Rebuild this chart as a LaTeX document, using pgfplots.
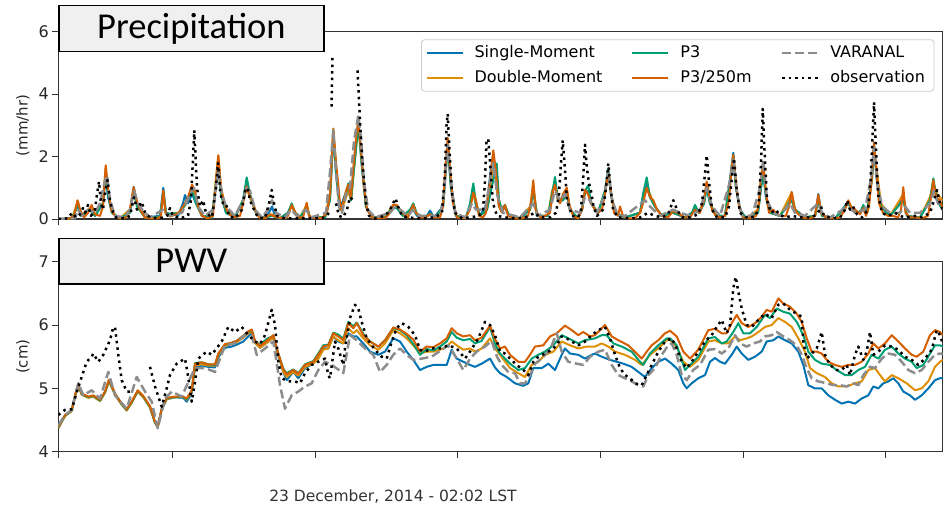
\documentclass[border=0pt]{standalone}
\usepackage{fontspec}
\setmainfont{DejaVu Sans}
\newfontfamily\titlefont{Carlito}
\usepackage{pgfplots}
\pgfplotsset{compat=1.18}
\definecolor{cSM}{HTML}{0173B2}
\definecolor{cDM}{HTML}{DE8F05}
\definecolor{cP3}{HTML}{029E73}
\definecolor{cPH}{HTML}{D55E00}
\definecolor{cVA}{HTML}{8C8C8C}
\definecolor{axc}{HTML}{333333}
\definecolor{boxfill}{HTML}{F0F0F0}
\pgfplotsset{
  myaxis/.style={
    scale only axis, width=884.4bp,
    xmin=58.3, xmax=942.7,
    xtick={58.3,172.3,315,457.7,600.6,743.2,885.7},
    xticklabels={},
    tick align=outside, xtick pos=left, ytick pos=left,
    major tick length=6bp,
    tick style={axc, line width=1bp},
    axis line style={axc, line width=1.2bp},
    ticklabel style={font=\fontsize{16bp}{19bp}\selectfont, text=black!85},
    /pgf/number format/assume math mode=true,
    ylabel style={at={(axis description cs:-0.04,0.5)}, anchor=center, font=\fontsize{15bp}{18bp}\selectfont, text=black!85},
    unbounded coords=jump,
    every axis plot/.append style={line join=round},
  },
  sm/.style={cSM, line width=2bp},
  dm/.style={cDM, line width=2bp},
  ptr/.style={cP3, line width=2bp},
  ph/.style={cPH, line width=2bp},
  va/.style={cVA, line width=2.5bp, dash pattern=on 9bp off 4bp},
  ob/.style={black, line width=2.5bp, dash pattern=on 2.5bp off 4.1bp},
}
\begin{document}
\begin{tikzpicture}
\path[use as bounding box] (0bp,0bp) rectangle (948bp,-509bp);
% ---------------- Precipitation ----------------
\begin{axis}[myaxis, at={(58.3bp,-219bp)}, anchor=south west, height=187.3bp,
  ymin=0, ymax=6, ytick={0,2,4,6}, ylabel={(mm/hr)},
  legend columns=3, legend cell align=left,
  legend image code/.code={\draw[#1] (0bp,0bp) -- (36bp,0bp);},
  legend style={at={(0.9905,0.9594)}, anchor=north east, draw=black!20, line width=0.8bp,
    rounded corners=3bp, fill=white, font=\fontsize{16bp}{19bp}\selectfont,
    inner xsep=4bp, inner ysep=3.5bp, row sep=5.5bp,
    nodes={inner xsep=5bp, inner ysep=2bp, text height=12bp, text depth=3.5bp},
    /tikz/every odd column/.append style={column sep=6bp},
    /tikz/every even column/.append style={column sep=24bp}},
]
\addplot[sm, forget plot] coordinates {(58.3,0) (72,0.02) (76,0.3) (78,0.45) (81,0.1) (90,0.3) (95,0.1) (103,0.5) (105.7,1.45) (108,0.7) (112,0.2) (120,0.02) (130,0.3) (133.7,1.03) (137,0.5) (145,0.05) (160,0.1) (163.3,1.0) (166,0.2) (178,0.1) (183,0.5) (185,0.77) (188,0.5) (192,0.8) (196,0.5) (202,0.1) (212,0.05) (218.3,1.75) (221,0.8) (226,0.2) (235,0.05) (243,0.6) (246.7,1.1) (250,0.7) (256,0.2) (262,0.02) (269,0.2) (272,0.4) (275,0.1) (280,0.02) (288,0.2) (291.7,0.45) (295,0.2) (300,0.05) (306.7,0.35) (310,0.05) (325,0.05) (330,0.7) (333.3,2.75) (336,1.5) (340,0.3) (344,0.7) (348.3,1.0) (351,0.6) (354,1.7) (358.3,3.1) (362,1.7) (366,0.4) (372,0.05) (385,0.05) (393,0.35) (397,0.35) (403,0.1) (413.3,0.3) (417,0.1) (427,0.1) (430,0.27) (434,0.05) (443,0.4) (447.7,2.4) (451,1.0) (456,0.1) (466,0.05) (470,0.4) (473.3,0.9) (476,0.4) (480,0.1) (487,0.5) (490.5,1.5) (493.3,2.1) (496,1.2) (499,0.4) (505,0.35) (509,0.1) (520,0.02) (530,0.3) (533.3,1.0) (537,0.1) (548,0.1) (552,0.7) (555,1.2) (558,0.6) (563,0.6) (566.7,0.9) (570,0.3) (578,0.02) (582,0.3) (585,0.85) (588.3,0.9) (591,0.5) (598,0.2) (605,0.9) (608.3,1.55) (611,0.8) (615,0.2) (625,0.05) (640,0.2) (643,0.6) (646.7,1.1) (650,0.7) (655,0.4) (662,0.1) (673,0.2) (685,0.05) (692,0.2) (695,0.35) (699,0.2) (704,0.5) (706.7,1.05) (710,0.5) (716,0.1) (725,0.1) (730,1.3) (733.3,2.12) (736,1.0) (740,0.3) (746,0.02) (758,0.2) (761,1.0) (763.3,1.46) (766,0.7) (770,0.2) (780,0.1) (791.7,0.8) (795,0.3) (805,0.05) (815,0.1) (818.3,0.8) (822,0.1) (835,0.02) (848.3,0.55) (852,0.3) (860,0.2) (863.3,0.4) (867,0.2) (872,1.3) (874,2.35) (877,1.2) (881,0.4) (890,0.1) (903.3,0.7) (907,0.1) (920,0.05) (930,0.6) (933.3,1.2) (937,0.6) (942.7,0.3)};
\addplot[dm, forget plot] coordinates {(58.3,0) (72,0.02) (76,0.4) (78,0.55) (81,0.1) (90,0.35) (95,0.1) (103,0.5) (105.7,1.65) (108,0.9) (112,0.2) (120,0.02) (130,0.3) (133.7,0.95) (137,0.5) (145,0.05) (160,0.05) (163.3,0.8) (166,0.15) (180,0.2) (185,0.45) (192,1.0) (196,0.6) (202,0.1) (212,0.05) (218.3,2.04) (221,1.0) (226,0.3) (235,0.05) (243,0.6) (246.7,1.0) (250,0.7) (256,0.2) (262,0.02) (272,0.15) (280,0.02) (288,0.2) (291.7,0.4) (295,0.2) (300,0.05) (306.7,0.45) (310,0.05) (325,0.05) (330,0.8) (333.3,2.9) (336,1.7) (340,0.3) (344,0.5) (348.3,0.9) (351,0.6) (354,1.6) (358.3,3.0) (362,1.8) (366,0.4) (372,0.05) (385,0.05) (393,0.45) (397,0.4) (403,0.1) (410,0.2) (413.3,0.35) (417,0.15) (425,0.05) (430,0.15) (436,0.05) (443,0.4) (447.7,2.5) (451,1.1) (456,0.1) (466,0.05) (470,0.4) (473.3,0.8) (476,0.5) (480,0.1) (487,0.3) (491,1.0) (493.3,1.9) (496,1.2) (499,0.4) (505,0.4) (509,0.1) (520,0.02) (530,0.4) (533.3,1.1) (537,0.1) (548,0.1) (552,0.9) (555,1.1) (558,0.6) (563,0.7) (566.7,1.0) (570,0.3) (578,0.02) (582,0.3) (585,0.9) (588.3,0.8) (591,0.5) (598,0.2) (605,0.9) (608.3,1.5) (611,0.8) (615,0.2) (625,0.05) (640,0.2) (643,0.6) (646.7,1.0) (650,0.8) (655,0.4) (662,0.1) (673,0.2) (685,0.05) (692,0.2) (695,0.3) (699,0.2) (704,0.6) (706.7,1.15) (710,0.5) (716,0.1) (725,0.1) (730,1.2) (733.3,2.0) (736,1.0) (740,0.3) (746,0.02) (758,0.3) (761,1.3) (763.3,1.8) (766,0.8) (770,0.2) (780,0.1) (791.7,0.85) (795,0.3) (805,0.05) (815,0.1) (818.3,0.7) (822,0.1) (835,0.02) (848.3,0.5) (852,0.3) (860,0.2) (863.3,0.3) (867,0.2) (872,1.3) (874,2.3) (877,1.5) (881,0.5) (890,0.1) (903.3,0.8) (907,0.1) (920,0.05) (930,0.7) (933.3,1.1) (937,0.8) (942.7,0.6)};
\addplot[ptr, forget plot] coordinates {(58.3,0) (72,0.02) (76,0.3) (78,0.5) (81,0.1) (90,0.3) (95,0.1) (103,0.5) (105.7,1.5) (108,0.8) (112,0.2) (120,0.02) (130,0.2) (133.7,0.9) (137,0.4) (145,0.05) (160,0.05) (163.3,0.85) (166,0.15) (180,0.2) (185,0.45) (192,0.9) (196,0.5) (202,0.1) (212,0.05) (218.3,1.8) (221,0.8) (226,0.2) (235,0.05) (243,0.6) (246.7,1.33) (250,0.8) (256,0.2) (262,0.02) (272,0.1) (280,0.02) (288,0.2) (291.7,0.5) (295,0.2) (300,0.05) (306.7,0.4) (310,0.05) (325,0.05) (330,0.6) (333.3,2.7) (336,1.5) (340,0.3) (344,0.6) (348.3,1.14) (351,0.6) (354,1.6) (358.3,3.05) (362,1.6) (366,0.4) (372,0.05) (385,0.05) (393,0.4) (397,0.35) (403,0.1) (410,0.3) (413.3,0.5) (417,0.15) (425,0.05) (430,0.15) (436,0.05) (443,0.4) (447.7,2.36) (451,1.0) (456,0.1) (466,0.05) (470,0.5) (473.3,1.14) (476,0.5) (480,0.1) (487,0.3) (491,0.9) (496.7,1.78) (499,0.6) (502,0.3) (505,0.45) (509,0.1) (520,0.02) (530,0.3) (533.3,0.9) (537,0.1) (548,0.1) (552,0.8) (555,1.35) (558,0.6) (563,0.6) (566.7,0.8) (570,0.3) (578,0.02) (582,0.3) (585,0.9) (588.3,1.08) (591,0.5) (598,0.2) (605,0.9) (608.3,1.62) (611,0.8) (615,0.2) (625,0.05) (640,0.2) (643,0.8) (646.7,1.33) (650,0.7) (655,0.4) (662,0.1) (673,0.2) (685,0.05) (692,0.2) (695,0.45) (699,0.2) (704,0.5) (706.7,1.0) (710,0.5) (716,0.1) (725,0.1) (730,1.2) (733.3,2.05) (736,1.0) (740,0.3) (746,0.02) (758,0.2) (761,1.0) (763.3,1.5) (766,0.7) (770,0.2) (780,0.1) (791.7,0.6) (795,0.3) (805,0.05) (815,0.1) (818.3,0.6) (822,0.1) (835,0.02) (848.3,0.5) (852,0.3) (860,0.2) (863.3,0.45) (867,0.2) (872,1.3) (874,2.3) (877,1.2) (881,0.4) (890,0.1) (903.3,0.6) (907,0.1) (920,0.05) (930,0.6) (933.3,1.3) (937,0.6) (942.7,0.3)};
\addplot[ph, forget plot] coordinates {(58.3,0) (65,0) (70,0.02) (74,0.1) (77.5,0.6) (80,0.3) (84,0.05) (88,0.2) (91.7,0.45) (95,0.15) (100,0.1) (103,0.4) (105.7,1.72) (108,1.0) (111,0.3) (115,0.1) (120,0.02) (126,0.05) (130,0.3) (133.7,1.02) (136.5,0.6) (140,0.3) (145,0.05) (150,0.02) (158,0.02) (161,0.1) (163.3,0.92) (165.5,0.2) (170,0.08) (176,0.15) (180,0.25) (185,0.5) (188,0.7) (192,1.1) (195,0.9) (198,0.4) (202,0.1) (208,0.02) (213,0.1) (218.3,2.04) (221,1.0) (224,0.5) (228,0.2) (233,0.05) (240,0.1) (243,0.5) (246.7,1.05) (249,0.8) (252,0.6) (255,0.3) (259,0.05) (265,0.02) (270,0.15) (273,0.1) (278,0.05) (285,0.02) (288,0.1) (291.7,0.45) (294,0.3) (298,0.05) (303,0.05) (306.7,0.52) (309,0.1) (315,0.02) (322,0.03) (327,0.2) (330,0.8) (333.3,2.88) (336,1.8) (338,1.2) (340.5,0.3) (343,0.5) (346,0.9) (348.3,1.1) (351,0.7) (353,1.5) (356,2.6) (358.3,3.15) (361,2.2) (364,1.0) (367,0.3) (372,0.05) (380,0.02) (386,0.05) (390,0.2) (393,0.45) (396.7,0.45) (400,0.3) (404,0.15) (408,0.05) (411,0.3) (413.3,0.45) (416,0.2) (420,0.05) (425,0.05) (430,0.15) (434,0.05) (440,0.05) (443,0.4) (445,1.5) (447.7,2.6) (450,1.6) (453,0.5) (457,0.05) (465,0.02) (470,0.3) (473.3,0.85) (476,0.6) (479,0.1) (483,0.05) (486,0.2) (490,1.2) (493.3,2.2) (496,1.5) (499,0.4) (502,0.2) (505,0.45) (508,0.1) (515,0.02) (522,0.02) (528,0.1) (531,0.5) (533.3,1.24) (535.5,0.3) (540,0.05) (545,0.1) (550,0.2) (553,0.9) (555,1.1) (557.5,0.7) (560,0.5) (563,0.8) (566.7,1.0) (569,0.5) (573,0.1) (578,0.02) (582,0.3) (585,0.93) (588,0.8) (591,0.5) (595,0.3) (598,0.2) (602,0.3) (605,0.8) (608.3,1.5) (611,0.9) (614,0.2) (618,0.1) (620,0.4) (623,0.1) (628,0.02) (635,0.02) (640,0.2) (643,0.5) (646.7,1.0) (650,0.7) (653.3,0.6) (657,0.3) (662,0.1) (668,0.05) (673,0.25) (678,0.2) (684,0.05) (690,0.05) (695,0.3) (700,0.2) (704,0.6) (706.7,1.2) (709,0.8) (712,0.3) (716,0.1) (720,0.05) (725,0.1) (729,0.6) (731.5,1.6) (733.3,2.05) (736,1.2) (739,0.4) (743,0.05) (750,0.02) (756,0.1) (759,0.5) (761,1.3) (763.3,1.7) (766,0.8) (769,0.2) (773,0.3) (776,0.2) (780,0.1) (786,0.1) (789,0.4) (791.7,0.87) (794,0.4) (797,0.2) (802,0.05) (810,0.02) (815,0.1) (818.3,0.77) (821,0.2) (826,0.05) (833,0.02) (840,0.05) (845,0.3) (848.3,0.6) (851,0.4) (855,0.3) (860,0.15) (863.3,0.35) (866,0.1) (869,0.4) (871.5,1.2) (874,2.45) (876.5,1.5) (879,0.5) (883,0.2) (888,0.1) (893,0.1) (898,0.05) (901,0.3) (903.3,1.02) (905.5,0.2) (910,0.05) (917,0.05) (922,0.02) (928,0.1) (931,0.7) (933.3,1.25) (936,0.7) (940,0.6) (942.7,0.3)};
\addplot[va, forget plot] coordinates {(58.3,0) (75,0.02) (78,0.3) (82,0.1) (88,0.3) (95,0.2) (100,0.5) (104,1.1) (107,1.4) (110,0.6) (115,0.1) (125,0.05) (130,0.3) (134,0.9) (138,0.5) (142,0.3) (150,0.05) (163,0.3) (168,0.1) (182,0.2) (190,0.8) (194,1.0) (198,0.4) (205,0.1) (213,0.3) (218.3,1.6) (222,0.8) (226,0.4) (235,0.1) (243,0.6) (246.7,1.0) (250,0.9) (255,0.3) (262,0.05) (268,0.3) (272,0.6) (276,0.2) (285,0.05) (291,0.3) (297,0.1) (306,0.3) (311,0.05) (326,0.2) (330,1.5) (333.3,2.85) (336,1.5) (339,0.4) (342,0.2) (346,0.8) (350,1.0) (354,2.5) (358.3,3.32) (361,2.6) (364,1.2) (368,0.3) (375,0.05) (390,0.2) (395,0.4) (400,0.3) (408,0.1) (413,0.3) (420,0.1) (440,0.1) (444,0.8) (447.7,2.4) (451,1.2) (455,0.2) (465,0.05) (472,0.5) (476,0.3) (485,0.3) (490,1.2) (493.3,1.8) (497,0.8) (503,0.2) (520,0.05) (533,0.5) (538,0.1) (550,0.3) (555,0.9) (560,0.6) (565,0.8) (570,0.3) (580,0.2) (585,0.7) (590,0.6) (597,0.2) (604,0.7) (608.3,1.5) (612,0.6) (618,0.1) (625,0.1) (645,0.6) (650,0.4) (660,0.1) (673,0.3) (680,0.2) (690,0.1) (700,0.3) (706.7,1.0) (712,0.4) (720,0.1) (730,1.2) (733.3,1.9) (737,0.8) (742,0.1) (752,0.1) (760,1.0) (763.3,1.9) (767,0.6) (773,0.2) (780,0.1) (790,0.5) (795,0.2) (805,0.1) (818,0.5) (822,0.2) (830,0.05) (848,0.4) (855,0.2) (865,0.3) (871,1.3) (874,2.3) (877,1.2) (882,0.4) (890,0.2) (900,0.2) (905,0.4) (910,0.2) (920,0.2) (930,0.5) (934,0.9) (938,0.5) (942.7,0.4)};
\addplot[ob, forget plot] coordinates {(58.3,0) (68,0.02) (72,0.2) (76,0.05) (80,0.15) (83,0.35) (85,0.2) (88,0.45) (91,0.1) (95,0.3) (97,0.8) (99,1.2) (101,0.5) (103,0.3) (105,0.8) (107.5,1.25) (110,0.6) (112,0.3) (116,0.05) (125,0.02) (130,0.1) (134,0.7) (137,0.3) (141.7,0.55) (145,0.2) (150,0.05) (160,0.02) (167,0.1) (170,0.35) (173,0.1) (180,0.02) (188,0.1) (191,0.6) (194.3,2.84) (197,1.0) (200,0.4) (203,0.6) (206,0.2) (212,0.05) (216,1.0) (218,1.8) (220.5,0.8) (223,0.5) (226,0.5) (229,0.1) (235,0.02) (242,0.3) (245,0.9) (247.5,1.0) (250,0.6) (254,0.3) (258,0.05) (265,0.02) (269,0.5) (271.7,0.93) (274,0.5) (277,0.1) (285,0.02) (300,0.02) (315,0.02) (325,0.05) (329,0.2) (330.5,nan) (331.5,3.6) (332.5,5.17) (334,nan) (336,0.5) (339,0.1) (343,0.05) (347,0.3) (350,0.7) (353,0.6) (355,nan) (357.5,4.76) (359,3.8) (361,2.5) (363,1.6) (366,0.5) (369,0.1) (375,0.02) (385,0.1) (390,0.3) (393,0.5) (395.5,0.66) (398,0.4) (402,0.1) (408,0.05) (420,0.02) (435,0.05) (442,0.2) (445,1.5) (446.5,3.0) (447.7,3.37) (449.5,2.2) (452,0.8) (455,0.2) (462,0.02) (470,0.05) (479,0.1) (483,0.3) (485,1.2) (486.5,2.45) (488.3,2.57) (490,1.8) (493,0.5) (497,0.1) (505,0.05) (515,0.02) (525,0.05) (535,0.2) (540,0.05) (550,0.05) (556,0.2) (559,0.8) (561,1.8) (562.7,2.52) (564.5,1.8) (567,0.6) (572,0.1) (578,0.05) (581,0.3) (583,1.2) (585,2.38) (587,1.6) (589,1.14) (591,0.9) (593.5,0.4) (597,0.1) (603,0.3) (606,1.0) (608.3,1.78) (610.5,1.0) (613,0.3) (618,0.05) (630,0.02) (640,0.05) (648,0.2) (655,0.1) (662,0.05) (668,0.15) (673.3,0.6) (677,0.3) (682,0.05) (690,0.05) (698,0.15) (702,0.5) (704.5,1.3) (706.7,2.04) (709,1.2) (712,0.3) (717,0.05) (725,0.05) (729,0.4) (731.5,1.2) (734,1.95) (736.5,1.0) (740,0.2) (748,0.02) (756,0.1) (759,0.6) (761,1.8) (762.7,3.53) (764.5,2.2) (767,0.6) (771,0.2) (776,0.3) (779,0.15) (785,0.05) (792,0.1) (800,0.05) (812,0.05) (818,0.2) (821,0.4) (824,0.1) (832,0.02) (840,0.05) (845,0.3) (847,0.6) (850,0.3) (853,0.4) (857,0.15) (862,0.05) (868,0.3) (870.5,1.2) (872.5,2.6) (874,3.74) (875.5,2.6) (878,0.8) (882,0.2) (888,0.1) (895,0.2) (900,0.1) (905,0.05) (915,0.1) (922,0.05) (930,0.2) (934,0.6) (937,0.93) (940,0.5) (942.7,0.3)};
\addlegendimage{sm}\addlegendentry{Single-Moment}
\addlegendimage{ptr}\addlegendentry{P3}
\addlegendimage{va}\addlegendentry{VARANAL}
\addlegendimage{dm}\addlegendentry{Double-Moment}
\addlegendimage{ph}\addlegendentry{P3/250m}
\addlegendimage{ob}\addlegendentry{observation}
\end{axis}
% ---------------- PWV ----------------
\begin{axis}[myaxis, at={(58.3bp,-451.7bp)}, anchor=south west, height=190bp,
  ymin=4, ymax=7, ytick={4,5,6,7}, ylabel={(cm)}]
\addplot[sm, forget plot] coordinates {(58.3,4.38) (65,4.57) (71.7,4.65) (76,4.94) (78.3,5.05) (81.7,4.91) (88.3,4.86) (93.3,4.88) (100,4.80) (105,4.94) (109,5.12) (115,4.91) (121.7,4.75) (126.7,4.66) (131.7,4.78) (137.7,4.95) (143.3,4.86) (150,4.70) (155,4.46) (157.7,4.39) (161.7,4.67) (166.7,4.83) (175,4.86) (183.3,4.85) (186.7,4.79) (191.7,4.92) (195,5.34) (201.7,5.36) (208.3,5.34) (215,5.33) (218.3,5.49) (225,5.64) (231.7,5.66) (236.7,5.69) (243.3,5.74) (248.3,5.82) (251.7,5.88) (255,5.72) (260,5.64) (266.7,5.72) (273.3,5.80) (278.3,5.52) (283.3,5.26) (286.7,5.13) (293.3,5.26) (298.3,5.16) (305,5.32) (313.3,5.39) (318.3,5.47) (323.3,5.63) (328.3,5.63) (333.3,5.82) (338.3,5.74) (343.3,5.71) (348.3,5.87) (353.3,5.82) (356.7,5.82) (363.3,5.71) (370,5.58) (378.3,5.53) (385,5.58) (393.3,5.79) (400,5.74) (406.7,5.58) (413.3,5.45) (420,5.29) (426.7,5.34) (433.3,5.37) (440,5.37) (446.7,5.37) (451.7,5.61) (456.7,5.47) (463.3,5.42) (470,5.37) (475,5.34) (481.7,5.39) (490,5.47) (495,5.33) (500,5.24) (506.7,5.18) (515,5.08) (523.3,5.04) (528.3,5.08) (533.3,5.32) (541.7,5.32) (548.3,5.39) (555,5.29) (561.7,5.53) (565,5.63) (570,5.55) (578.3,5.53) (585,5.47) (591.7,5.53) (595,5.55) (601.7,5.50) (610,5.45) (616.7,5.42) (623.3,5.39) (631.7,5.34) (638.3,5.26) (645,5.18) (651.7,5.32) (658.3,5.42) (665,5.47) (671.7,5.39) (678.3,5.29) (683.3,5.08) (686.7,5.00) (691.7,5.08) (698.3,5.16) (705,5.21) (710,5.42) (715,5.48) (720,5.42) (725,5.39) (731.7,5.53) (736.7,5.66) (741.7,5.55) (748.3,5.45) (755,5.50) (761.7,5.58) (766.7,5.74) (773.3,5.76) (778.3,5.82) (785,5.76) (791.7,5.71) (798.3,5.58) (803.3,5.37) (808.3,5.05) (815,5.00) (821.7,5.00) (828.3,4.89) (835,4.82) (841.7,4.76) (848.3,4.79) (855,4.76) (861.7,4.84) (868.3,4.89) (873.3,5.03) (878.3,5.00) (883.3,5.08) (888.3,5.11) (893.3,5.16) (898.3,5.08) (903.3,4.95) (910,4.89) (915,4.82) (921.7,4.89) (928.3,5.00) (935,5.13) (940,5.16) (942.7,5.16)};
\addplot[dm, forget plot] coordinates {(58.3,4.37) (65,4.56) (71.7,4.64) (76,4.93) (78.3,5.04) (81.7,4.90) (88.3,4.85) (93.3,4.87) (100,4.80) (105,4.93) (109,5.11) (115,4.90) (121.7,4.74) (126.7,4.65) (131.7,4.77) (137.7,4.95) (143.3,4.86) (150,4.70) (155,4.46) (157.7,4.39) (161.7,4.67) (166.7,4.83) (175,4.86) (183.3,4.86) (186.7,4.82) (191.7,4.94) (195,5.36) (201.7,5.38) (208.3,5.36) (215,5.36) (218.3,5.52) (225,5.67) (231.7,5.70) (236.7,5.73) (243.3,5.80) (248.3,5.87) (251.7,5.90) (255,5.72) (260,5.64) (266.7,5.72) (273.3,5.80) (278.3,5.53) (283.3,5.26) (286.7,5.18) (293.3,5.26) (298.3,5.20) (305,5.34) (313.3,5.39) (318.3,5.47) (323.3,5.61) (328.3,5.63) (333.3,5.82) (338.3,5.76) (343.3,5.71) (348.3,5.95) (353.3,5.87) (356.7,5.92) (363.3,5.79) (370,5.68) (378.3,5.61) (385,5.71) (393.3,5.92) (400,5.87) (406.7,5.79) (413.3,5.68) (420,5.55) (426.7,5.58) (433.3,5.58) (440,5.61) (446.7,5.66) (451.7,5.74) (456.7,5.68) (463.3,5.61) (470,5.63) (475,5.58) (481.7,5.63) (490,5.79) (495,5.63) (500,5.53) (510,5.32) (518.3,5.24) (525,5.18) (531.7,5.37) (538.3,5.42) (545,5.53) (553.3,5.58) (561.7,5.74) (570,5.68) (578.3,5.63) (586.7,5.66) (595,5.66) (601.7,5.71) (608.3,5.66) (615,5.58) (625,5.53) (635,5.45) (641.7,5.37) (650,5.53) (658.3,5.63) (666.7,5.76) (670,5.76) (676.7,5.66) (683.3,5.42) (690,5.34) (698.3,5.45) (708.3,5.74) (715,5.76) (721.7,5.71) (728.3,5.71) (735,5.82) (740,5.76) (746.7,5.79) (751.7,5.82) (756.7,5.87) (765,5.97) (771.7,6.00) (778.3,6.11) (785,6.05) (791.7,5.97) (798.3,5.79) (805,5.58) (810,5.32) (816.7,5.24) (825,5.18) (831.7,5.08) (838.3,5.03) (846.7,5.03) (855,5.08) (861.7,5.11) (868.3,5.29) (875,5.32) (880,5.21) (885,5.11) (891.7,5.21) (898.3,5.16) (906.7,5.08) (915,4.97) (921.7,5.00) (928.3,5.11) (935,5.34) (940,5.42) (942.7,5.45)};
\addplot[ptr, forget plot] coordinates {(58.3,4.38) (65,4.57) (71.7,4.65) (76,4.94) (78.3,5.06) (81.7,4.91) (88.3,4.86) (93.3,4.88) (100,4.81) (105,4.94) (109,5.13) (115,4.91) (121.7,4.75) (126.7,4.66) (131.7,4.78) (137.7,4.96) (143.3,4.87) (150,4.71) (155,4.46) (157.7,4.39) (161.7,4.67) (166.7,4.84) (175,4.86) (183.3,4.86) (186.7,4.83) (191.7,4.96) (195,5.40) (201.7,5.41) (208.3,5.38) (215,5.37) (218.3,5.54) (225,5.69) (231.7,5.72) (236.7,5.75) (243.3,5.83) (248.3,5.89) (251.7,5.92) (255,5.74) (260,5.69) (266.7,5.78) (273.3,5.83) (278.3,5.55) (283.3,5.31) (286.7,5.24) (293.3,5.30) (298.3,5.24) (305,5.38) (313.3,5.43) (318.3,5.55) (323.3,5.68) (328.3,5.69) (333.3,5.88) (338.3,5.85) (343.3,5.78) (348.3,6.05) (353.3,5.98) (356.7,6.04) (363.3,5.86) (370,5.74) (378.3,5.66) (385,5.76) (393.3,5.95) (400,5.92) (406.7,5.84) (413.3,5.70) (420,5.53) (426.7,5.62) (433.3,5.60) (440,5.66) (446.7,5.74) (451.7,5.89) (456.7,5.80) (463.3,5.76) (470,5.78) (475,5.71) (481.7,5.75) (490,5.97) (495,5.70) (500,5.55) (510,5.39) (518.3,5.29) (525,5.32) (531.7,5.47) (538.3,5.53) (545,5.58) (553.3,5.68) (561.7,5.84) (568.3,5.79) (578.3,5.71) (585,5.76) (595,5.79) (601.7,5.84) (606.7,5.84) (613.3,5.71) (621.7,5.66) (631.7,5.58) (640,5.42) (643.3,5.37) (650,5.55) (658.3,5.68) (666.7,5.79) (670,5.79) (676.7,5.68) (685,5.29) (690,5.37) (698.3,5.50) (708.3,5.79) (715,5.81) (721.7,5.71) (726.7,5.74) (733.3,5.89) (738.3,6.03) (743.3,5.87) (750,5.87) (756.7,5.97) (765,6.16) (770,6.11) (776.7,6.26) (783.3,6.21) (790,6.18) (796.7,6.05) (803.3,5.84) (808.3,5.58) (815,5.45) (821.7,5.39) (830,5.37) (836.7,5.29) (845,5.21) (851.7,5.21) (858.3,5.29) (865,5.34) (871.7,5.53) (878.3,5.47) (885,5.61) (891.7,5.66) (898.3,5.55) (905,5.47) (911.7,5.42) (916.7,5.32) (923.3,5.37) (930,5.55) (935,5.68) (940,5.68) (942.7,5.66)};
\addplot[ph, forget plot] coordinates {(58.3,4.39) (65,4.58) (71.7,4.66) (76,4.95) (78.3,5.07) (81.7,4.92) (88.3,4.87) (93.3,4.89) (100,4.82) (105,4.95) (109,5.14) (115,4.92) (121.7,4.76) (126.7,4.67) (131.7,4.79) (137.7,4.97) (143.3,4.88) (150,4.72) (155,4.47) (157.7,4.40) (161.7,4.68) (166.7,4.85) (175,4.87) (183.3,4.87) (186.7,4.84) (191.7,4.97) (195,5.39) (201.7,5.41) (208.3,5.38) (215,5.38) (218.3,5.55) (225,5.70) (231.7,5.72) (236.7,5.75) (243.3,5.83) (248.3,5.90) (251.7,5.93) (255,5.75) (260,5.67) (266.7,5.75) (273.3,5.84) (278.3,5.55) (283.3,5.30) (286.7,5.22) (293.3,5.29) (298.3,5.23) (305,5.37) (313.3,5.42) (318.3,5.53) (323.3,5.66) (328.3,5.68) (333.3,5.87) (338.3,5.82) (343.3,5.76) (348.3,6.03) (353.3,5.95) (356.7,6.03) (363.3,5.84) (370,5.74) (378.3,5.66) (385,5.76) (393.3,5.96) (400,5.93) (406.7,5.86) (413.3,5.77) (420,5.58) (426.7,5.66) (433.3,5.65) (440,5.71) (446.7,5.79) (451.7,5.95) (456.7,5.87) (463.3,5.82) (470,5.84) (475,5.76) (481.7,5.80) (490,5.99) (495,5.78) (500,5.63) (505,5.66) (510,5.53) (518.3,5.42) (525,5.42) (530,5.53) (535,5.66) (543.3,5.68) (550,5.82) (556.7,5.87) (565,5.99) (571.7,5.92) (578.3,5.84) (583.3,5.89) (590,5.82) (595,5.84) (600,5.92) (605,6.00) (611.7,5.82) (618.3,5.76) (628.3,5.68) (636.7,5.55) (641.7,5.47) (646.7,5.58) (651.7,5.68) (658.3,5.76) (665,5.87) (670,5.91) (676.7,5.82) (683.3,5.58) (690,5.47) (698.3,5.61) (708.3,5.92) (715,5.94) (721.7,5.87) (726.7,5.87) (731.7,6.03) (736.7,6.16) (741.7,6.03) (748.3,5.97) (755,6.03) (761.7,6.13) (766.7,6.24) (771.7,6.21) (778.3,6.42) (783.3,6.34) (790,6.29) (796.7,6.18) (801.7,6.05) (806.7,5.79) (811.7,5.58) (816.7,5.58) (821.7,5.55) (828.3,5.42) (835,5.37) (841.7,5.34) (848.3,5.37) (855,5.37) (861.7,5.42) (868.3,5.55) (873.3,5.71) (878.3,5.63) (885,5.71) (891.7,5.84) (898.3,5.74) (905,5.63) (911.7,5.53) (916.7,5.50) (923.3,5.58) (930,5.84) (935,5.92) (940,5.89) (942.7,5.84)};
\addplot[va, forget plot] coordinates {(58.3,4.42) (65,4.58) (71.7,4.66) (78.3,5.08) (83.3,4.89) (91.7,4.97) (100,4.84) (108.3,5.26) (115,4.89) (126.7,4.68) (136.7,5.18) (145,4.95) (151.7,4.79) (157.7,4.37) (165,4.84) (171.7,4.95) (181.7,4.87) (188.3,5.10) (195,5.32) (205,5.32) (215,5.26) (225,5.68) (235,5.71) (245,5.84) (251.7,5.84) (256.7,5.53) (265,5.63) (273.3,5.74) (276.7,5.40) (280,5.05) (285,4.68) (291.7,4.89) (298.3,4.95) (305,5.03) (311.7,5.08) (318.3,5.29) (325,5.42) (331.7,5.37) (341.7,5.26) (343.3,5.24) (350,5.84) (356.7,5.76) (365,5.63) (373.3,5.53) (380,5.26) (386.7,5.37) (393.3,5.53) (400,5.63) (406.7,5.53) (413.3,5.45) (421.7,5.47) (431.7,5.50) (441.7,5.61) (448.3,5.68) (456.7,5.47) (463.3,5.29) (470,5.47) (476.7,5.58) (485,5.66) (491.7,5.75) (497,5.50) (501.7,5.37) (508.3,5.26) (515,5.24) (520,5.08) (525,5.08) (530,5.21) (535,5.39) (541.7,5.47) (550,5.61) (556.7,5.87) (561.7,5.58) (568.3,5.42) (576.7,5.39) (583.3,5.37) (590,5.50) (598.3,5.58) (605,5.61) (611.7,5.37) (618.3,5.21) (625,5.16) (631.7,5.11) (638.3,5.05) (643.3,5.03) (648.3,5.21) (655,5.32) (661.7,5.53) (668.3,5.68) (671.7,5.71) (676.7,5.53) (681.7,5.21) (686.7,5.13) (693.3,5.29) (700,5.37) (708.3,5.61) (715,5.62) (721.7,5.55) (728.3,5.63) (735,5.84) (740,5.71) (746.7,5.66) (753.3,5.71) (760,5.74) (765,5.82) (771.7,5.84) (776.7,5.89) (783.3,5.82) (790,5.76) (796.7,5.68) (801.7,5.53) (806.7,5.32) (811.7,5.16) (818.3,5.11) (826.7,5.08) (833.3,5.05) (840,5.05) (846.7,5.03) (853.3,5.08) (858.3,5.05) (863.3,5.21) (870,5.34) (875,5.32) (881.7,5.47) (888.3,5.55) (895,5.53) (901.7,5.42) (908.3,5.29) (915,5.24) (921.7,5.29) (928.3,5.42) (935,5.53) (940,5.55) (942.7,5.55)};
\addplot[ob, forget plot] coordinates {(58.3,4.58) (65,4.66) (71.7,4.67) (76,4.9) (80,5.1) (86.7,5.42) (91.7,5.5) (93.3,5.55) (98.3,5.42) (103.3,5.53) (110,5.76) (113,5.95) (115,5.97) (118.3,5.53) (121.7,5.13) (126.7,4.95) (130,4.95) (131,nan) (150,5.34) (155,5.03) (161.7,4.71) (166.7,5.0) (170,5.21) (176.7,5.39) (185,5.47) (188,5.2) (191.7,4.79) (195,5.1) (198.3,5.47) (206.7,5.58) (211.7,5.53) (221.7,5.74) (228.3,5.97) (235,5.89) (241.7,5.97) (248.3,5.84) (255,5.74) (260,5.7) (265,5.84) (271.7,6.24) (275,6.0) (278.3,5.42) (281.7,5.16) (288.3,5.11) (295,5.11) (300,5.08) (305,5.24) (311.7,5.37) (318.3,5.42) (325,5.47) (328.3,5.21) (330,5.16) (335,5.74) (338.3,5.63) (343.3,5.37) (345,5.63) (350,6.11) (355,6.32) (358.3,6.26) (361.7,6.05) (366.7,5.79) (371.7,5.68) (376.7,5.58) (381.7,5.5) (386.7,5.47) (391.7,5.74) (396.7,5.95) (401.7,6.03) (408.3,5.97) (415,5.84) (420,5.61) (425,5.58) (431.7,5.63) (440,5.63) (448.3,5.68) (456.7,5.63) (465,5.47) (470,5.58) (478.3,5.79) (485,6.05) (490,6.0) (495,5.84) (500,5.58) (505,5.55) (510,5.47) (516.7,5.37) (523.3,5.29) (528.3,5.21) (533.3,5.42) (538.3,5.5) (545,5.55) (551.7,5.61) (556.7,5.68) (561.7,5.82) (566.7,5.79) (571.7,5.74) (578.3,5.68) (585,5.74) (591.7,5.84) (598.3,5.92) (605,5.97) (610,5.79) (615,5.53) (620,5.32) (625,5.21) (630,5.16) (635,5.08) (641.7,5.05) (646.7,5.21) (651.7,5.37) (658.3,5.58) (665,5.74) (671.7,5.79) (676.7,5.63) (681.7,5.42) (686.7,5.32) (691.7,5.42) (698.3,5.58) (705,5.74) (711.7,5.84) (716.7,5.97) (721.7,6.08) (726.7,5.87) (730,6.0) (733.3,6.58) (735.7,6.76) (738.3,6.53) (741.7,6.26) (746.7,6.0) (751.7,5.97) (758.3,6.08) (765,6.18) (771.7,6.11) (778.3,6.32) (783.3,6.34) (790,6.24) (796.7,6.18) (801.7,6.13) (803.3,5.74) (806.7,5.47) (811.7,5.55) (816.7,5.63) (821.7,5.89) (825,5.53) (830,5.37) (836.7,5.29) (841.7,5.29) (846.7,5.37) (850,5.21) (855,5.53) (858.3,5.66) (863.3,5.45) (866.7,5.58) (870,5.89) (873.3,5.53) (878.3,5.58) (885,5.68) (891.7,5.66) (898.3,5.61) (905,5.5) (911.7,5.45) (918.3,5.37) (925,5.47) (931.7,5.61) (936.7,5.92) (940,5.84) (942.7,5.71)};
\end{axis}
% title boxes and date label
\node[draw=black, line width=1.2bp, fill=boxfill, minimum width=265bp, minimum height=46bp, inner sep=0pt, anchor=north west,
  font=\titlefont\fontsize{36.5bp}{40bp}\selectfont] at (58.3bp,-5bp) {Precipitation};
\node[draw=black, line width=1.2bp, fill=boxfill, minimum width=265bp, minimum height=45.3bp, inner sep=0pt, anchor=north west,
  font=\titlefont\fontsize{36.5bp}{40bp}\selectfont] at (58.3bp,-238bp) {PWV};
\node[font=\fontsize{15.5bp}{18bp}\selectfont, text=black!80] at (393bp,-497bp) {23 December, 2014 - 02:02 LST};
\end{tikzpicture}
\end{document}
